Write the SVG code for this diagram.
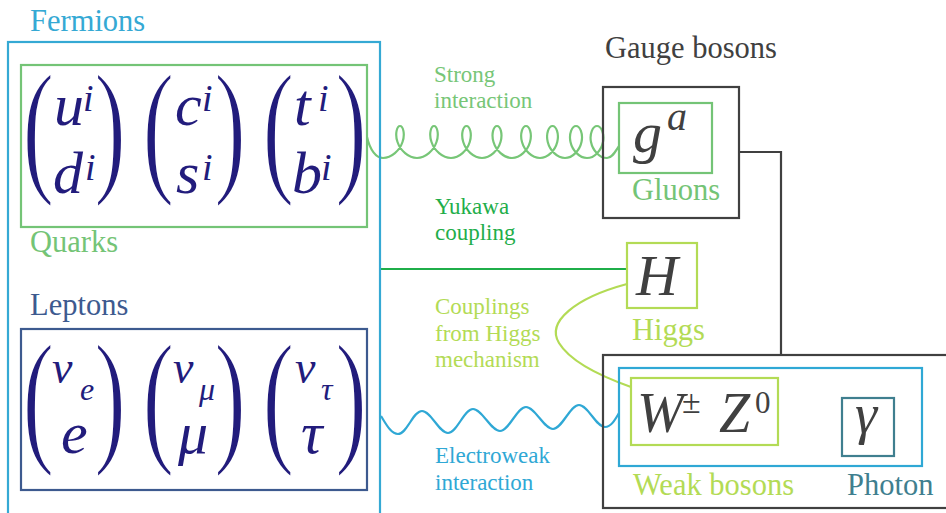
<svg xmlns="http://www.w3.org/2000/svg" width="946" height="513" viewBox="0 0 946 513">
<style>
  text { font-family: "Liberation Serif", "Times New Roman", serif; }
  .lbl { font-size: 30.5px; }
  .sm { font-size: 23px; }
  .m { font-style: italic; fill: #221c7c; }
  .mg { font-style: italic; fill: #404040; }
  .up { font-style: normal; }
  .par { font-size: 100px; fill: #221c7c; stroke: #ffffff; stroke-width: 1.6px; }
  .box { fill: none; stroke-width: 2.2; }
  .ln { fill: none; stroke-width: 2.2; }
</style>
<rect width="946" height="513" fill="#ffffff"/>

<g id="connectors">
  <path class="ln" stroke="#77c677" d="M 367,137 C 370,150 376,158 383,158
    c 8.59,0 16.67,-7.62 19.5,-16 c 2.83,-8.38 0.43,-16 -2.5,-16 c -2.93,0 -5.33,7.62 -2.5,16 c 2.83,8.38 10.91,16 19.5,16
    c 8.59,0 16.67,-7.62 19.5,-16 c 2.83,-8.38 0.43,-16 -2.5,-16 c -2.93,0 -5.33,7.62 -2.5,16 c 2.83,8.38 10.91,16 19.5,16
    c 8.34,0 16.17,-7.62 18.75,-16 c 2.58,-8.38 -0.07,-16 -3.25,-16 c -3.18,0 -5.83,7.62 -3.25,16 c 2.58,8.38 10.41,16 18.75,16
    c 8.26,0 16,-7.62 18.5,-16 c 2.5,-8.38 -0.24,-16 -3.5,-16 c -3.26,0 -6,7.62 -3.5,16 c 2.5,8.38 10.24,16 18.5,16
    c 8.09,0 15.67,-7.62 18,-16 c 2.33,-8.38 -0.57,-16 -4,-16 c -3.43,0 -6.33,7.62 -4,16 c 2.33,8.38 9.91,16 18,16
    c 7.84,0 15.17,-7.62 17.25,-16 c 2.08,-8.38 -1.07,-16 -4.75,-16 c -3.68,0 -6.83,7.62 -4.75,16 c 2.08,8.38 9.41,16 17.25,16
    c 7.59,0 14.67,-7.62 16.5,-16 c 1.83,-8.38 -1.57,-16 -5.5,-16 c -3.93,0 -7.33,7.62 -5.5,16 c 1.83,8.38 8.91,16 16.5,16
    c 7.43,0 14.33,-7.62 16,-16 c 1.67,-8.38 -1.91,-16 -6,-16 c -4.09,0 -7.67,7.62 -6,16 c 1.67,8.38 8.57,16 16,16
    C 612,158 615,152 619,146"/>
  <path class="ln" stroke="#1fae4a" d="M 381,269 H 627"/>
  <path class="ln" stroke="#b3db55" d="M 627,284 C 575,298 546,322 559,343 C 570,361 600,376 631,387"/>
  <path class="ln" stroke="#2fa8d5" d="M 381,416 C 386,424 391,434 398,434 C 407,434 413,411 422,411 C 431,411 439,433 448,433 C 457,433 464,409 473,409 C 482,409 491,431 500,431 C 509,431 517,407 526,407 C 535,407 544,429 553,429 C 562,429 570,405 579,405 C 588,405 596,427 605,427 C 611,427 615,420 619,413"/>
  <path class="ln" stroke="#404040" d="M 739,152 H 781 V 355"/>
  <text class="sm" fill="#77c677"><tspan x="434" y="82">Strong</tspan><tspan x="434" y="108">interaction</tspan></text>
  <text class="sm" fill="#1fae4a"><tspan x="435" y="214">Yukawa</tspan><tspan x="435" y="240">coupling</tspan></text>
  <text class="sm" fill="#b3db55"><tspan x="435" y="314">Couplings</tspan><tspan x="435" y="341">from Higgs</tspan><tspan x="435" y="367">mechanism</tspan></text>
  <text class="sm" fill="#2fa8d5"><tspan x="435" y="463">Electroweak</tspan><tspan x="435" y="490">interaction</tspan></text>
</g>

<g id="fermions">
  <rect class="box" x="8" y="42" width="372" height="490" stroke="#35a9d4"/>
  <text class="lbl" x="30" y="31" fill="#35a9d4">Fermions</text>
</g>

<g id="quarks">
  <rect class="box" x="21" y="65" width="346" height="162" stroke="#74c476"/>
  <text class="lbl" x="30" y="252" fill="#74c476">Quarks</text>
  <text class="par" transform="translate(22.4,175.6) scale(0.95,1.49)">(</text>
  <text class="par" transform="translate(94.2,175.6) scale(0.95,1.49)">)</text>
  <text class="par" transform="translate(142.4,175.6) scale(0.95,1.49)">(</text>
  <text class="par" transform="translate(214.2,175.6) scale(0.95,1.49)">)</text>
  <text class="par" transform="translate(262.4,175.6) scale(0.95,1.49)">(</text>
  <text class="par" transform="translate(335.2,175.6) scale(0.95,1.49)">)</text>
  <text class="m" font-size="60" x="54" y="125">u</text>
  <text class="m" font-size="38" x="83" y="111">i</text>
  <text class="m" font-size="60" x="53" y="193">d</text>
  <text class="m" font-size="38" x="85" y="180">i</text>
  <text class="m" font-size="60" x="175" y="125">c</text>
  <text class="m" font-size="38" x="202" y="111">i</text>
  <text class="m" font-size="60" x="176" y="193">s</text>
  <text class="m" font-size="38" x="202" y="180">i</text>
  <text class="m" font-size="60" x="294" y="125">t</text>
  <text class="m" font-size="38" x="318" y="111">i</text>
  <text class="m" font-size="60" x="292" y="193">b</text>
  <text class="m" font-size="38" x="321" y="180">i</text>
</g>

<g id="leptons">
  <rect class="box" x="21" y="329" width="346" height="161" stroke="#3d5a8f"/>
  <text class="lbl" x="30" y="315" fill="#3d5a8f">Leptons</text>
  <text class="par" transform="translate(22.4,445.6) scale(0.95,1.49)">(</text>
  <text class="par" transform="translate(94.2,445.6) scale(0.95,1.49)">)</text>
  <text class="par" transform="translate(142.4,445.6) scale(0.95,1.49)">(</text>
  <text class="par" transform="translate(214.2,445.6) scale(0.95,1.49)">)</text>
  <text class="par" transform="translate(262.4,445.6) scale(0.95,1.49)">(</text>
  <text class="par" transform="translate(335.2,445.6) scale(0.95,1.49)">)</text>
  <text class="m" font-size="46" x="52" y="383">ν</text>
  <text class="m" font-size="32" x="80" y="400">e</text>
  <text class="m" font-size="46" x="173" y="383">ν</text>
  <text class="m" font-size="32" x="199" y="400">μ</text>
  <text class="m" font-size="46" x="295" y="383">ν</text>
  <text class="m" font-size="32" x="321" y="400">τ</text>
  <text class="m" font-size="60" x="61" y="453">e</text>
  <text class="m" font-size="60" x="178" y="453">μ</text>
  <text class="m" font-size="60" x="301" y="453">τ</text>
</g>

<g id="gauge-bosons">
  <text class="lbl" x="605" y="58" fill="#404040">Gauge bosons</text>
</g>

<g id="gluons">
  <rect class="box" x="603" y="87" width="136" height="131" stroke="#404040"/>
  <rect class="box" x="619" y="103" width="93" height="70" stroke="#74c476"/>
  <text class="mg" font-size="58" x="633" y="152">g</text>
  <text class="mg" font-size="40" x="667" y="130">a</text>
  <text class="lbl" x="632" y="200" fill="#74c476">Gluons</text>
</g>

<g id="higgs">
  <rect class="box" x="627" y="243" width="70" height="65" stroke="#b3db55"/>
  <text class="mg" font-size="58" x="636" y="295">H</text>
  <text class="lbl" x="632" y="340" fill="#b3db55">Higgs</text>
</g>

<g id="electroweak">
  <rect class="box" x="603" y="355" width="360" height="153" stroke="#404040"/>
  <rect class="box" x="619" y="368" width="303" height="98" stroke="#2fa8d5"/>
</g>

<g id="weak-bosons">
  <rect class="box" x="631" y="378" width="147" height="67" stroke="#b3db55"/>
  <text class="mg" font-size="56" x="637" y="432">W</text>
  <text class="mg up" font-size="34" x="682" y="413">±</text>
  <text class="mg" font-size="56" x="719" y="432">Z</text>
  <text class="mg up" font-size="31" x="755" y="413">0</text>
  <text class="lbl" x="633" y="495" fill="#b3db55">Weak bosons</text>
</g>

<g id="photon">
  <rect class="box" x="842" y="398" width="52" height="58" stroke="#3f7f8f"/>
  <text class="mg" font-size="56" x="855" y="433">γ</text>
  <text class="lbl" x="847" y="495" fill="#3f7f8f">Photon</text>
</g>
</svg>
